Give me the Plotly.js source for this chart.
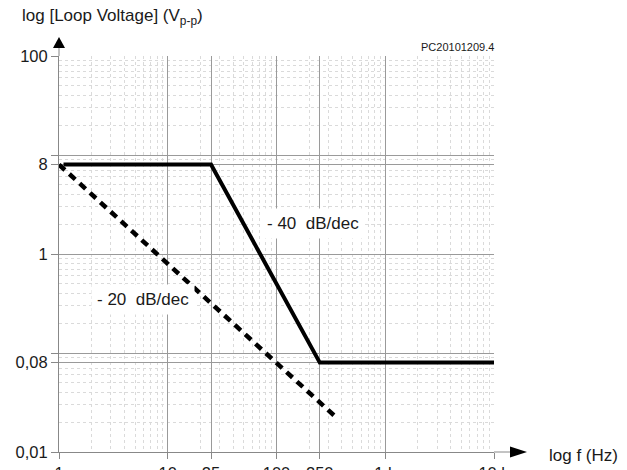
<!DOCTYPE html>
<html>
<head>
<meta charset="utf-8">
<script src="https://cdn.plot.ly/plotly-3.0.1.min.js"></script>
<style>html,body{margin:0;padding:0;background:#fff;}#chart{width:627px;height:470px;}</style>
</head>
<body>
<div id="chart"></div>
<script>
// ---- data ----
const solidFreq = [1.1, 25, 250, 10000];
const solidVolt = [8, 8, 0.08, 0.08];
const dashFreq = [1, 360];
const dashVolt = [8, 0.022];

const xTickVals = [1, 10, 25, 100, 250, 1000, 10000];
const xTickText = ["1", "10", "25", "100", "250", "1 k", "10 k"];
const yTickVals = [100, 10, 8, 1, 0.1, 0.08, 0.01];
const yTickText = ["100", "", "8", "1", "", "0,08", "0,01"];

const yTitle = "log [Loop Voltage] (V<sub>p-p</sub>)";
const xTitle = "log f (Hz)";
const refCode = "PC20101209.4";
const slope40 = "- 40  dB/dec";
const slope20 = "- 20  dB/dec";

// minor grid positions (2..9 in each decade)
function minorVals(lo, hi) {
  const v = [];
  for (let d = lo; d < hi; d++) for (let m = 2; m <= 9; m++) v.push(m * Math.pow(10, d));
  return v;
}

const font = "Liberation Sans, Arial, sans-serif";
const txt = "#1a1a1a";

const traces = [
  {x: dashFreq, y: dashVolt, type: "scatter", mode: "lines",
   line: {color: "#000", width: 4.5, dash: "8px,6px"}, hoverinfo: "skip"},
  {x: solidFreq, y: solidVolt, type: "scatter", mode: "lines",
   line: {color: "#000", width: 4}, hoverinfo: "skip"}
];

const layout = {
  width: 627, height: 470,
  margin: {l: 59, r: 133, t: 56, b: 18},
  paper_bgcolor: "#fff", plot_bgcolor: "#fff",
  showlegend: false,
  font: {family: font, color: txt, size: 16.5},
  xaxis: {
    type: "log", range: [0, 4],
    tickmode: "array", tickvals: xTickVals, ticktext: xTickText,
    ticks: "outside", ticklen: 6, tickcolor: "#888", tickwidth: 1,
    ticklabelstandoff: 0, ticklabeloverflow: "allow",
    showgrid: true, gridcolor: "#9a9a9a", gridwidth: 1,
    showline: true, linecolor: "#888", linewidth: 1,
    zeroline: false, fixedrange: true,
    tickfont: {size: 16.5, family: font, color: txt},
    minor: {tickmode: "array", tickvals: minorVals(0, 4), showgrid: true,
            gridcolor: "#dadada", griddash: "dot", gridwidth: 1, ticks: ""}
  },
  yaxis: {
    type: "log", range: [-2, 2],
    tickmode: "array", tickvals: yTickVals, ticktext: yTickText,
    ticks: "outside", ticklen: 7, tickcolor: "#888", tickwidth: 1,
    ticklabeloverflow: "allow",
    showgrid: true, gridcolor: "#9a9a9a", gridwidth: 1,
    showline: true, linecolor: "#888", linewidth: 1,
    zeroline: false, fixedrange: true,
    tickfont: {size: 16.5, family: font, color: txt},
    minor: {tickmode: "array", tickvals: minorVals(-2, 2), showgrid: true,
            gridcolor: "#dadada", griddash: "dot", gridwidth: 1, ticks: ""}
  },
  shapes: [
    // axis extensions
    {type: "line", xref: "paper", yref: "paper", x0: 0, x1: 0, y0: 1, y1: 1.025,
     line: {color: "#888", width: 1}},
    {type: "line", xref: "paper", yref: "paper", x0: 1, x1: 1.04, y0: 0, y1: 0,
     line: {color: "#888", width: 1}},
    // arrow heads
    {type: "path", xref: "paper", yref: "paper",
     path: "M -0.0138,1.020 L 0.0138,1.020 L 0,1.048 Z",
     fillcolor: "#000", line: {color: "#000", width: 0}},
    {type: "path", xref: "paper", yref: "paper",
     path: "M 1.0368,-0.0139 L 1.0368,0.0139 L 1.0759,0 Z",
     fillcolor: "#000", line: {color: "#000", width: 0}}
  ],
  annotations: [
    {text: yTitle, xref: "paper", yref: "paper", x: -0.0897, y: 1.098,
     xanchor: "left", yanchor: "middle", showarrow: false,
     font: {size: 17, family: font, color: txt}},
    {text: xTitle, xref: "paper", yref: "paper", x: 1.1218, y: -0.0076,
     xanchor: "left", yanchor: "middle", showarrow: false,
     font: {size: 17, family: font, color: txt}},
    {text: refCode, xref: "paper", yref: "paper", x: 1.0046, y: 1.0235,
     xanchor: "right", yanchor: "middle", showarrow: false,
     font: {size: 11, family: font, color: txt}},
    {text: slope40, xref: "x", yref: "y", x: Math.log10(217), y: Math.log10(2.01),
     xanchor: "center", yanchor: "middle", showarrow: false,
     bgcolor: "#fff", borderpad: 5,
     font: {size: 17, family: font, color: txt}},
    {text: slope20, xref: "x", yref: "y", x: Math.log10(5.86), y: Math.log10(0.351),
     xanchor: "center", yanchor: "middle", showarrow: false,
     bgcolor: "#fff", borderpad: 5,
     font: {size: 17, family: font, color: txt}}
  ]
};

Plotly.newPlot("chart", traces, layout, {staticPlot: true, displayModeBar: false});
</script>
</body>
</html>
